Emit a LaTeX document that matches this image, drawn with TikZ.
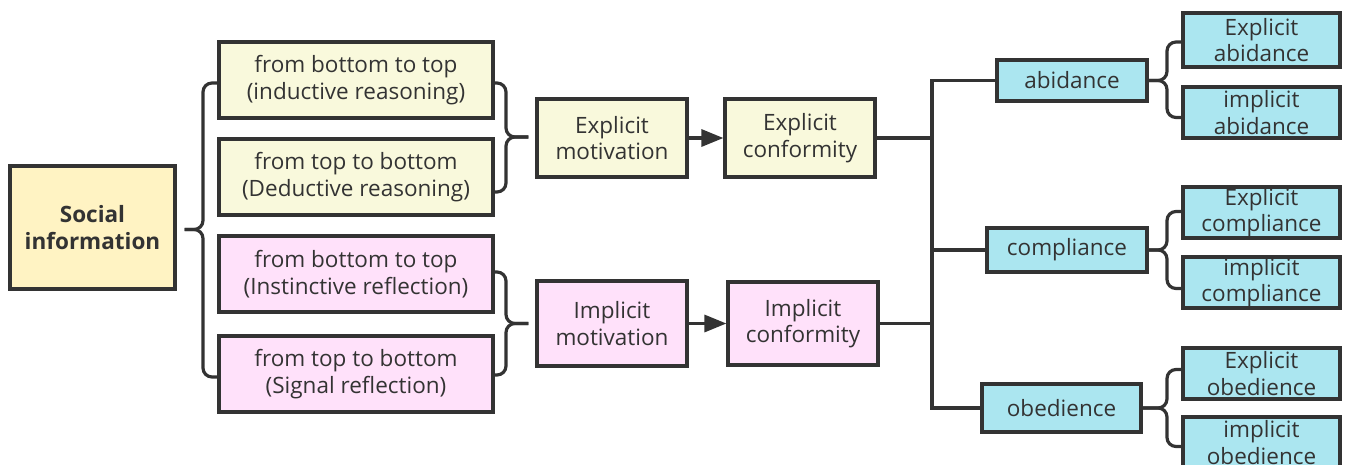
\documentclass[tikz,border=0pt]{standalone}
\usepackage{fontspec}
\setmainfont{Open Sans}
\usetikzlibrary{arrows.meta,calc}
\definecolor{ink}{HTML}{333333}
\definecolor{socfill}{HTML}{FFF3C3}
\definecolor{yelfill}{HTML}{F9F9DC}
\definecolor{pinkfill}{HTML}{FFE1FA}
\definecolor{cyanfill}{HTML}{ABE6F0}
\tikzset{
  box/.style={draw=ink, line width=3.2pt, text=ink, align=center, inner sep=0pt,
    font=\fontsize{22.5}{26.5}\selectfont},
  ybox/.style={box, fill=yelfill},
  pbox/.style={box, fill=pinkfill},
  cbox/.style={box, fill=cyanfill},
  conn/.style={draw=ink, line width=3.2pt},
  brace/.style={conn, rounded corners=9pt},
}
\begin{document}
\begin{tikzpicture}[x=1pt,y=-1pt]
\useasboundingbox (0,0) rectangle (1346,464);
% nodes
\node[box, fill=socfill, minimum width=165pt, minimum height=123pt, font=\fontsize{22.5}{26.5}\selectfont\bfseries] (si) at (92.5,227.5) {Social\\information};
\node[ybox, minimum width=274pt, minimum height=76pt] (a1) at (356,80) {from bottom to top\\(inductive reasoning)};
\node[ybox, minimum width=274pt, minimum height=76pt] (a2) at (356,177) {from top to bottom\\(Deductive reasoning)};
\node[pbox, minimum width=274pt, minimum height=76pt] (b1) at (356,274) {from bottom to top\\(Instinctive reflection)};
\node[pbox, minimum width=274pt, minimum height=76pt] (b2) at (356,374) {from top to bottom\\(Signal reflection)};
\node[ybox, minimum width=150pt, minimum height=78pt] (em) at (612,138) {Explicit\\motivation};
\node[ybox, minimum width=150pt, minimum height=78pt] (ec) at (800,138) {Explicit\\conformity};
\node[pbox, minimum width=150pt, minimum height=85pt] (im) at (612,323.5) {Implicit\\motivation};
\node[pbox, minimum width=150pt, minimum height=83pt] (ic) at (803,323.5) {Implicit\\conformity};
\node[cbox, minimum width=150pt, minimum height=41pt] (ab) at (1072,80.5) {abidance};
\node[cbox, minimum width=160pt, minimum height=44pt] (co) at (1067,250) {compliance};
\node[cbox, minimum width=159pt, minimum height=48pt] (ob) at (1061.5,408) {obedience};
\node[cbox, minimum width=157pt, minimum height=54pt] (ea) at (1261.5,40) {Explicit\\abidance};
\node[cbox, minimum width=157pt, minimum height=51pt] (ia) at (1261.5,112.5) {implicit\\abidance};
\node[cbox, minimum width=157pt, minimum height=51pt] (ecp) at (1261.5,212.5) {Explicit\\compliance};
\node[cbox, minimum width=157pt, minimum height=51pt] (icp) at (1261.5,282.5) {implicit\\compliance};
\node[cbox, minimum width=157pt, minimum height=51pt] (eo) at (1261.5,373.5) {Explicit\\obedience};
\node[cbox, minimum width=157pt, minimum height=51pt] (io) at (1261.5,442.5) {implicit\\obedience};
% helper coordinates
\coordinate (lb) at (203,0);
\coordinate (ltip) at ($(si.east)+(8,2)$);
\coordinate (yb) at (506,0);
\coordinate (ytip) at ($(em.west)+(-7,-1)$);
\coordinate (pb) at (506,0);
\coordinate (ptip) at ($(im.west)+(-7,0)$);
\coordinate (tk) at (932,0);
\coordinate (rb) at (1167,0);
% left brace
\draw[brace] ($(a1.west)+(0,3)$) -- ($(lb |- a1.west)+(0,3)$) -- (lb |- ltip) -- (ltip);
\draw[brace] (ltip) -- (lb |- ltip) -- ($(lb |- b2.west)+(0,3)$) -- ($(b2.west)+(0,3)$);
% yellow brace
\draw[brace] ($(a1.east)+(0,3)$) -- ($(yb |- a1.east)+(0,3)$) -- (yb |- ytip) -- (ytip);
\draw[brace] (ytip) -- (yb |- ytip) -- ($(yb |- a2.east)+(0,15)$) -- ($(a2.east)+(0,15)$);
% pink brace
\draw[brace] ($(b1.east)+(0,-2)$) -- ($(pb |- b1.east)+(0,-2)$) -- (pb |- ptip) -- (ptip);
\draw[brace] (ptip) -- (pb |- ptip) -- ($(pb |- b2.east)+(0,1)$) -- ($(b2.east)+(0,1)$);
% arrows
\draw[conn, -{Triangle[length=22pt,width=17pt]}] (em.east) -- (ec.west);
\draw[conn, -{Triangle[length=22pt,width=17pt]}] (im.east) -- (ic.west);
% trunk
\draw[conn] (ab.west) -- (tk |- ab.west) -- (tk |- ob.west) -- (ob.west);
\draw[conn] (ec.east) -- (ec.east -| tk);
\draw[conn] (ic.east) -- (ic.east -| tk);
\draw[conn] (co.west) -- (co.west -| tk);
% small braces
\draw[brace] (ab.east) -- (rb |- ab.east) -- ($(rb |- ea.west)+(0,2)$) -- ($(ea.west)+(0,2)$);
\draw[brace] (ab.east) -- (rb |- ab.east) -- ($(rb |- ia.west)+(0,5)$) -- ($(ia.west)+(0,5)$);
\draw[brace] (co.east) -- (rb |- co.east) -- ($(rb |- ecp.west)+(0,-1)$) -- ($(ecp.west)+(0,-1)$);
\draw[brace] (co.east) -- (rb |- co.east) -- ($(rb |- icp.west)+(0,6)$) -- ($(icp.west)+(0,6)$);
\draw[brace] (ob.east) -- (rb |- ob.east) -- ($(rb |- eo.west)+(0,-4)$) -- ($(eo.west)+(0,-4)$);
\draw[brace] (ob.east) -- (rb |- ob.east) -- ($(rb |- io.west)+(0,4)$) -- ($(io.west)+(0,4)$);
\end{tikzpicture}
\end{document}
